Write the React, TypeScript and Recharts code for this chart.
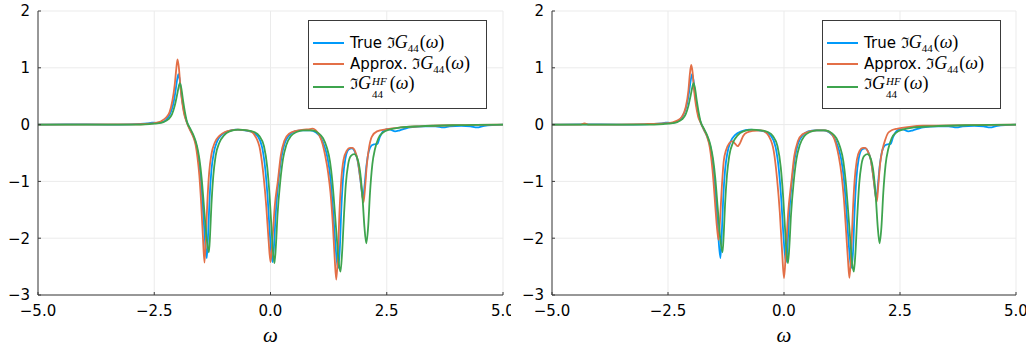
import React from "react";
import { CartesianGrid, Legend, Line, LineChart, XAxis, YAxis } from "recharts";

const BLUE = "#009afa";
const RED = "#e36f47";
const GREEN = "#3ea44e";
const AXIS_INK = "#3a3a3a";
const GRID = "#ebebeb";

const X_TICKS = [-5, -2.5, 0, 2.5, 5];
const Y_TICKS = [-3, -2, -1, 0, 1, 2];

// [omega, Im G44(omega)]
const TRUE_G44: [number, number][] = [
  [-5, 0], [-4.4, 0.005], [-3.5, 0], [-3, 0.005], [-2.65, 0.02], [-2.55, 0.035], [-2.45, 0.03],
  [-2.35, 0.04], [-2.25, 0.08], [-2.17, 0.17], [-2.1, 0.33], [-2.05, 0.55], [-2.01, 0.78],
  [-1.98, 0.89], [-1.95, 0.78], [-1.92, 0.55], [-1.88, 0.32], [-1.84, 0.15], [-1.8, 0.05],
  [-1.72, -0.1], [-1.65, -0.22], [-1.59, -0.38], [-1.54, -0.62], [-1.5, -0.95], [-1.46, -1.4],
  [-1.42, -1.9], [-1.37, -2.35], [-1.34, -1.9], [-1.31, -1.3], [-1.27, -0.8], [-1.22, -0.5],
  [-1.15, -0.3], [-1.05, -0.18], [-0.92, -0.12], [-0.75, -0.09], [-0.55, -0.1], [-0.4, -0.13],
  [-0.28, -0.2], [-0.18, -0.4], [-0.11, -0.8], [-0.06, -1.3], [-0.02, -1.85], [0.015, -2.25],
  [0.045, -2.42], [0.075, -2.15], [0.11, -1.6], [0.17, -1.0], [0.23, -0.6], [0.3, -0.34],
  [0.4, -0.19], [0.52, -0.12], [0.68, -0.1], [0.85, -0.1], [0.98, -0.14], [1.08, -0.23],
  [1.16, -0.38], [1.23, -0.6], [1.29, -0.95], [1.34, -1.45], [1.39, -2.05], [1.43, -2.42],
  [1.46, -2.52], [1.49, -2.2], [1.52, -1.55], [1.56, -0.95], [1.61, -0.6], [1.68, -0.44],
  [1.75, -0.42], [1.81, -0.47], [1.87, -0.62], [1.93, -0.95], [1.97, -1.22], [1.99, -1.3],
  [2.02, -1.1], [2.06, -0.75], [2.11, -0.48], [2.17, -0.37], [2.22, -0.35], [2.3, -0.34],
  [2.35, -0.22], [2.42, -0.12], [2.5, -0.08], [2.58, -0.09], [2.68, -0.12], [2.78, -0.1],
  [2.9, -0.07], [3.0, -0.05], [3.3, -0.03], [3.55, -0.03], [3.72, -0.05], [3.85, -0.03],
  [4.1, -0.02], [4.3, -0.03], [4.44, -0.05], [4.6, -0.02], [5, 0],
];

const HF_G44: [number, number][] = [
  [-5, 0], [-3, 0], [-2.6, 0.01], [-2.4, 0.025], [-2.3, 0.045], [-2.2, 0.09], [-2.12, 0.18],
  [-2.06, 0.33], [-2.01, 0.52], [-1.97, 0.68], [-1.95, 0.73], [-1.92, 0.65], [-1.88, 0.42],
  [-1.84, 0.22], [-1.8, 0.06], [-1.72, -0.08], [-1.65, -0.2], [-1.58, -0.38], [-1.53, -0.6],
  [-1.48, -0.95], [-1.43, -1.45], [-1.38, -1.95], [-1.325, -2.25], [-1.3, -1.95], [-1.27, -1.4],
  [-1.23, -0.9], [-1.18, -0.55], [-1.1, -0.32], [-1.0, -0.19], [-0.88, -0.12], [-0.7, -0.09],
  [-0.5, -0.1], [-0.35, -0.13], [-0.24, -0.2], [-0.14, -0.38], [-0.07, -0.75], [-0.02, -1.25],
  [0.02, -1.8], [0.055, -2.25], [0.085, -2.44], [0.115, -2.15], [0.15, -1.6], [0.21, -1.0],
  [0.27, -0.6], [0.34, -0.36], [0.44, -0.2], [0.56, -0.13], [0.7, -0.1], [0.9, -0.1],
  [1.03, -0.15], [1.13, -0.24], [1.21, -0.4], [1.28, -0.65], [1.33, -1.0], [1.38, -1.5],
  [1.43, -2.05], [1.47, -2.45], [1.505, -2.59], [1.54, -2.25], [1.58, -1.6], [1.62, -1.05],
  [1.67, -0.7], [1.73, -0.55], [1.8, -0.52], [1.87, -0.6], [1.93, -0.85], [1.98, -1.3],
  [2.02, -1.8], [2.06, -2.09], [2.1, -1.8], [2.14, -1.2], [2.19, -0.7], [2.25, -0.42],
  [2.32, -0.24], [2.42, -0.14], [2.55, -0.09], [2.8, -0.05], [3.2, -0.03], [4, -0.01], [5, 0],
];

const APPROX_LEFT: [number, number][] = [
  [-5, 0], [-3, 0.005], [-2.6, 0.015], [-2.45, 0.035], [-2.35, 0.06], [-2.25, 0.12],
  [-2.17, 0.22], [-2.11, 0.42], [-2.06, 0.7], [-2.03, 0.95], [-2.0, 1.15], [-1.97, 1.0],
  [-1.94, 0.7], [-1.9, 0.4], [-1.86, 0.2], [-1.81, 0.06], [-1.74, -0.08], [-1.67, -0.2],
  [-1.61, -0.36], [-1.57, -0.58], [-1.53, -0.9], [-1.49, -1.4], [-1.455, -1.95], [-1.42, -2.43],
  [-1.39, -2.0], [-1.36, -1.4], [-1.32, -0.85], [-1.27, -0.52], [-1.2, -0.32], [-1.1, -0.2],
  [-0.98, -0.13], [-0.85, -0.1], [-0.7, -0.09], [-0.52, -0.1], [-0.42, -0.12], [-0.33, -0.2],
  [-0.22, -0.46], [-0.15, -0.9], [-0.09, -1.45], [-0.04, -2.05], [0.0, -2.42], [0.04, -2.05],
  [0.09, -1.45], [0.16, -0.98], [0.22, -0.55], [0.3, -0.28], [0.4, -0.16], [0.55, -0.11],
  [0.72, -0.09], [0.85, -0.08], [0.91, -0.07], [0.97, -0.1], [1.05, -0.19], [1.12, -0.34],
  [1.18, -0.56], [1.24, -0.85], [1.29, -1.2], [1.34, -1.75], [1.38, -2.35], [1.415, -2.73],
  [1.45, -2.3], [1.48, -1.6], [1.52, -1.0], [1.57, -0.62], [1.64, -0.46], [1.71, -0.41],
  [1.76, -0.41], [1.82, -0.47], [1.88, -0.65], [1.94, -1.0], [1.98, -1.28], [2.0, -1.37],
  [2.03, -1.15], [2.07, -0.72], [2.12, -0.4], [2.18, -0.21], [2.29, -0.12], [2.5, -0.08],
  [2.8, -0.05], [3.2, -0.03], [4, -0.01], [5, 0],
];

const APPROX_RIGHT: [number, number][] = [
  [-5, 0], [-4.4, 0], [-4.3, 0.02], [-4.2, 0], [-3, 0.01], [-2.6, 0.02], [-2.4, 0.04],
  [-2.3, 0.07], [-2.2, 0.14], [-2.12, 0.3], [-2.06, 0.6], [-2.03, 0.88], [-2.0, 1.05],
  [-1.97, 0.92], [-1.94, 0.62], [-1.9, 0.35], [-1.85, 0.14], [-1.8, 0.04], [-1.72, -0.1],
  [-1.66, -0.21], [-1.6, -0.4], [-1.56, -0.65], [-1.52, -1.0], [-1.48, -1.45], [-1.44, -1.85],
  [-1.41, -2.03], [-1.38, -1.7], [-1.34, -1.1], [-1.3, -0.65], [-1.25, -0.45], [-1.18, -0.33],
  [-1.12, -0.29], [-1.06, -0.33], [-1.0, -0.38], [-0.95, -0.33], [-0.88, -0.2], [-0.8, -0.14],
  [-0.66, -0.11], [-0.5, -0.1], [-0.42, -0.12], [-0.33, -0.2], [-0.22, -0.47], [-0.15, -0.95],
  [-0.09, -1.55], [-0.04, -2.25], [0.0, -2.7], [0.04, -2.25], [0.09, -1.55], [0.16, -1.0],
  [0.22, -0.56], [0.3, -0.29], [0.4, -0.17], [0.55, -0.12], [0.72, -0.1], [0.88, -0.1],
  [0.98, -0.13], [1.05, -0.19], [1.12, -0.34], [1.18, -0.56], [1.24, -0.88], [1.29, -1.3],
  [1.34, -1.9], [1.38, -2.4], [1.41, -2.7], [1.445, -2.3], [1.48, -1.6], [1.52, -1.0],
  [1.57, -0.62], [1.63, -0.46], [1.7, -0.41], [1.75, -0.41], [1.8, -0.46], [1.87, -0.62],
  [1.93, -0.95], [1.97, -1.22], [2.0, -1.36], [2.03, -1.1], [2.07, -0.7], [2.12, -0.45],
  [2.18, -0.27], [2.24, -0.15], [2.32, -0.1], [2.45, -0.07], [2.7, -0.04], [3, -0.02],
  [4, -0.01], [5, 0],
];

const rows = (pts: [number, number][]) => pts.map(([x, y]) => ({ x, y }));
const fmt = (digits: number) => (v: number) => v.toFixed(digits).replace("-", "\u2212");

const TICK = { fontFamily: "'DejaVu Sans'", fontSize: 15, fill: "#000" };
const SERIF = "'Liberation Serif', 'DejaVu Serif', serif";

function G44({ hf }: { hf?: boolean }) {
  return (
    <span style={{ fontFamily: SERIF, fontSize: 18 }}>
      <span style={{ fontFamily: "'DejaVu Serif'", fontSize: 15 }}>ℑ</span>
      <i>G</i>
      {hf ? (
        <span style={{ display: "inline-block", verticalAlign: -9, lineHeight: "13px", fontSize: 11, marginLeft: 1, marginRight: 3 }}>
          <i style={{ display: "block" }}>HF</i>
          <span style={{ display: "block" }}>44</span>
        </span>
      ) : (
        <span style={{ fontSize: 11, verticalAlign: -4, marginRight: 1 }}>44</span>
      )}
      (<i>ω</i>)
    </span>
  );
}

const ENTRIES = [
  { color: BLUE, label: <>True <G44 /></>, cy: 22 },
  { color: RED, label: <>Approx. <G44 /></>, cy: 43 },
  { color: GREEN, label: <G44 hf />, cy: 66 },
];

function LegendBox() {
  return (
    <div style={{ position: "relative", width: 179, height: 89, boxSizing: "border-box", border: `1px solid ${AXIS_INK}`, background: "#fff" }}>
      {ENTRIES.map((e, i) => (
        <div key={i} style={{ position: "absolute", left: 4, top: e.cy - 11, height: 22, display: "flex", alignItems: "center", whiteSpace: "nowrap" }}>
          <div style={{ width: 31, height: 2, background: e.color, marginRight: 6 }} />
          <span style={{ fontFamily: "'DejaVu Sans'", fontSize: 15, color: "#000" }}>{e.label}</span>
        </div>
      ))}
    </div>
  );
}

function Panel({ approx, left, width, right }: { approx: [number, number][]; left: number; width: number; right: number }) {
  return (
    <div style={{ position: "absolute", left, top: 0 }}>
      <LineChart width={width} height={350} margin={{ top: 11, right, bottom: 0, left: 0 }}>
        <CartesianGrid stroke={GRID} />
        <XAxis
          dataKey="x" type="number" domain={[-5, 5]} ticks={X_TICKS} interval={0} allowDataOverflow
          height={55} tickSize={-3} tickMargin={13} tick={TICK} tickFormatter={fmt(1)}
          axisLine={{ stroke: AXIS_INK }} tickLine={{ stroke: AXIS_INK }}
          label={{ value: "ω", position: "insideBottom", offset: 8, fontSize: 21, fontStyle: "italic", fontFamily: SERIF, fill: "#000" }}
        />
        <YAxis
          type="number" domain={[-3, 2]} ticks={Y_TICKS} interval={0} allowDataOverflow
          width={38} tickSize={-3} tickMargin={11} tick={TICK} tickFormatter={fmt(0)}
          axisLine={{ stroke: AXIS_INK }} tickLine={{ stroke: AXIS_INK }}
        />
        <Legend layout="vertical" align="center" verticalAlign="middle" wrapperStyle={{ left: 308, top: 20, width: 179, height: 89 }} content={() => <LegendBox />} />
        <Line data={rows(TRUE_G44)} dataKey="y" type="monotone" stroke={BLUE} strokeWidth={1.8} dot={false} activeDot={false} isAnimationActive={false} />
        <Line data={rows(approx)} dataKey="y" type="monotone" stroke={RED} strokeWidth={1.8} dot={false} activeDot={false} isAnimationActive={false} />
        <Line data={rows(HF_G44)} dataKey="y" type="monotone" stroke={GREEN} strokeWidth={1.8} dot={false} activeDot={false} isAnimationActive={false} />
      </LineChart>
    </div>
  );
}

export default function App() {
  return (
    <div style={{ position: "absolute", left: 0, top: 0, width: 1031, height: 350, background: "#fff", overflow: "hidden" }}>
      <Panel approx={APPROX_LEFT} left={0} width={511} right={8} />
      <Panel approx={APPROX_RIGHT} left={514} width={512} right={10} />
    </div>
  );
}
